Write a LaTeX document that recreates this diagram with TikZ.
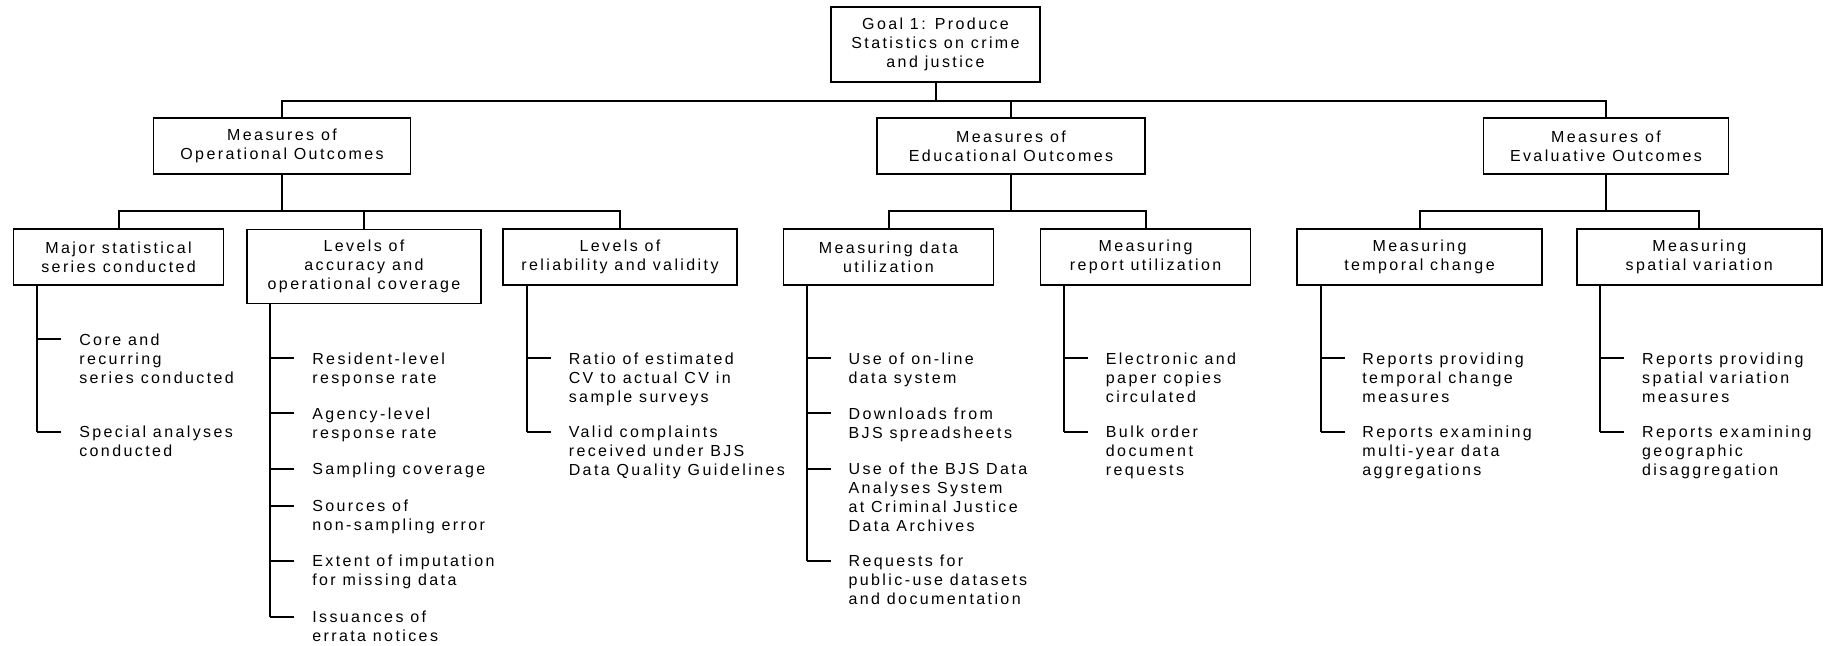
\documentclass[tikz,border=0pt]{standalone}
\usepackage{fontspec}
\setmainfont{Liberation Sans}[LetterSpace=15]
\usepackage{tikz}
\newcommand{\leaf}[4] % {name}{x}{y}{text}
{
	\coordinate (#1) at (#2,#3);
	\draw [tree] (#1) -- ++(24,0);
	\node [leaftext] (#1-t) at (#2+41.5,#3-6) {#4};
}
\begin{document}
\begin{tikzpicture}[x=0.5pt, y=-0.5pt,
	font=\fontsize{8}{9.5}\selectfont,
	box/.style={draw, line width=0.75pt, align=center, inner sep=0pt},
	tree/.style={line width=1pt},
	leaftext/.style={anchor=north west, align=left, inner sep=0pt}]

	\useasboundingbox (0,0) rectangle (1832,646);

	\node [box, minimum width=104.5pt, minimum height=37.5pt] (goal) at (935.5,44.5) {Goal 1: Produce\\Statistics on crime\\and justice};

	\node [box, minimum width=128.5pt, minimum height=27.85pt] (ops) at (282,146) {Measures of\\Operational Outcomes};
	\node [box, minimum width=134pt, minimum height=27.85pt] (edu) at (1011,146) {Measures of\\Educational Outcomes};
	\node [box, minimum width=122.5pt, minimum height=27.85pt] (eval) at (1606,146) {Measures of\\Evaluative Outcomes};

	\node [box, minimum width=105pt, minimum height=27.85pt] (major) at (118.6,257) {Major statistical\\series conducted};
	\node [box, minimum width=117pt, minimum height=37pt] (accur) at (364,266.3) {Levels of\\accuracy and\\operational coverage};
	\node [box, minimum width=117pt, minimum height=27.85pt] (relia) at (620,257) {Levels of\\reliability and validity};
	\node [box, minimum width=105pt, minimum height=27.85pt] (datau) at (888.5,257) {Measuring data\\utilization};
	\node [box, minimum width=105pt, minimum height=27.85pt] (repu) at (1145.6,257) {Measuring\\report utilization};
	\node [box, minimum width=122.5pt, minimum height=27.85pt] (tempc) at (1419.5,257) {Measuring\\temporal change};
	\node [box, minimum width=122.5pt, minimum height=27.85pt] (spatv) at (1699.3,257) {Measuring\\spatial variation};

	\draw [tree] (goal.south) -- ++(0,18) -| (ops.north);
	\draw [tree] (goal.south) -- ++(0,18) -| (edu.north);
	\draw [tree] (goal.south) -- ++(0,18) -| (eval.north);

	\draw [tree] (ops.south) -- ++(0,36.7) -| (major.north);
	\draw [tree] (ops.south) -- ++(0,36.7) -| (accur.north);
	\draw [tree] (ops.south) -- ++(0,36.7) -| (relia.north);
	\draw [tree] (edu.south) -- ++(0,36.7) -| (datau.north);
	\draw [tree] (edu.south) -- ++(0,36.7) -| (repu.north);
	\draw [tree] (eval.south) -- ++(0,36.7) -| (tempc.north);
	\draw [tree] (eval.south) -- ++(0,36.7) -| (spatv.north);

	\leaf{m1}{37.4}{339.3}{Core and\\recurring\\series conducted}
	\leaf{m2}{37.4}{431.7}{Special analyses\\conducted}
	\draw [tree] (major.south -| m1) -- (m2);

	\leaf{a1}{270.4}{358.3}{Resident-level\\response rate}
	\leaf{a2}{270.4}{413.3}{Agency-level\\response rate}
	\leaf{a3}{270.4}{469}{Sampling coverage}
	\leaf{a4}{270.4}{506}{Sources of\\non-sampling error}
	\leaf{a5}{270.4}{561}{Extent of imputation\\for missing data}
	\leaf{a6}{270.4}{616.7}{Issuances of\\errata notices}
	\draw [tree] (accur.south -| a1) -- (a6);

	\leaf{r1}{526.9}{358.3}{Ratio of estimated\\CV to actual CV in\\sample surveys}
	\leaf{r2}{526.9}{431.7}{Valid complaints\\received under BJS\\Data Quality Guidelines}
	\draw [tree] (relia.south -| r1) -- (r2);

	\leaf{d1}{806.7}{358.3}{Use of on-line\\data system}
	\leaf{d2}{806.7}{413.3}{Downloads from\\BJS spreadsheets}
	\leaf{d3}{806.7}{469}{Use of the BJS Data\\Analyses System\\at Criminal Justice\\Data Archives}
	\leaf{d4}{806.7}{561}{Requests for\\public-use datasets\\and documentation}
	\draw [tree] (datau.south -| d1) -- (d4);

	\leaf{p1}{1064}{358.3}{Electronic and\\paper copies\\circulated}
	\leaf{p2}{1064}{431.7}{Bulk order\\document\\requests}
	\draw [tree] (repu.south -| p1) -- (p2);

	\leaf{t1}{1320.5}{358.3}{Reports providing\\temporal change\\measures}
	\leaf{t2}{1320.5}{431.7}{Reports examining\\multi-year data\\aggregations}
	\draw [tree] (tempc.south -| t1) -- (t2);

	\leaf{s1}{1600.3}{358.3}{Reports providing\\spatial variation\\measures}
	\leaf{s2}{1600.3}{431.7}{Reports examining\\geographic\\disaggregation}
	\draw [tree] (spatv.south -| s1) -- (s2);
\end{tikzpicture}
\end{document}
